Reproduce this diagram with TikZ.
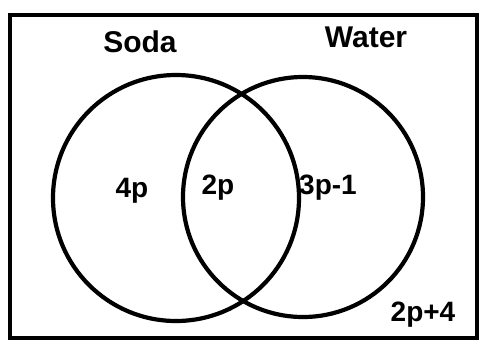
\documentclass[tikz,border=0pt]{standalone}
\usepackage{fontspec}
\setmainfont{Liberation Sans}
\usepackage{tikz}
\usetikzlibrary{positioning, calc}
\tikzset{
    setCircle/.style={circle, draw=black, line width=4.2pt, inner sep=0pt, minimum size=240pt},
    setLabel/.style={font=\fontsize{30}{36}\selectfont\bfseries, inner sep=0pt},
    regionLabel/.style={font=\fontsize{28}{34}\selectfont\bfseries, inner sep=0pt},
    frameLine/.style={line width=3.6pt, draw=black}
}

\begin{document}
\begin{tikzpicture}[x=1pt, y=-1pt]

        % --- Canvas ---
        \useasboundingbox (0,0) rectangle (481,346);

        % --- Universal set frame ---
        \coordinate (F1) at (10,15);
        \coordinate (F2) at (477,338);
        \draw[frameLine] (F1) rectangle (F2);

        % --- Sets ---
        \node[setCircle, minimum width=236pt, minimum height=246pt] (soda) at (176,198) {};
        \node[setCircle] (water) at (303,197) {};

        % --- Set names ---
        \node[setLabel] (sodaName) at (140,42) {Soda};
        \node[setLabel] (waterName) at (366,37) {Water};

        % --- Region values ---
        \node[regionLabel] (onlySoda) at (132,191) {4p};
        \node[regionLabel] (both) at (218,188) {2p};
        \node[regionLabel] (onlyWater) at (328,188) {3p-1};
        \node[regionLabel] (neither) at (423,315) {2p+4};

    \end{tikzpicture}
\end{document}
